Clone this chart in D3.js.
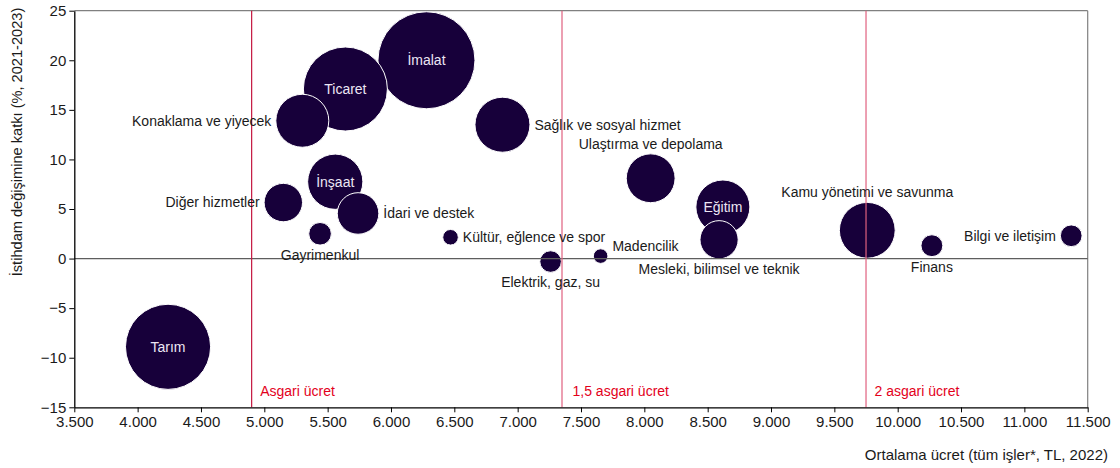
<!DOCTYPE html>
<html>
<head>
<meta charset="utf-8">
<script src="https://cdn.jsdelivr.net/npm/d3@7"></script>
<style>
  body { margin: 0; background: #fff; }
  text { font-family: "Liberation Sans", Arial, sans-serif; }
</style>
</head>
<body>
<script>
// sectors, average wage (TL, 2022), contribution to employment change (%, 2021-2023), employment (thousand)
var sectors = ["İmalat", "Ticaret", "Tarım", "Kamu yönetimi ve savunma", "İnşaat", "Sağlık ve sosyal hizmet",
    "Eğitim", "Konaklama ve yiyecek", "Ulaştırma ve depolama", "İdari ve destek", "Diğer hizmetler",
    "Mesleki, bilimsel ve teknik", "Gayrimenkul", "Finans", "Bilgi ve iletişim", "Elektrik, gaz, su",
    "Kültür, eğlence ve spor", "Madencilik"];
var wages = [6280, 5640, 4240, 9760, 5560, 6880, 8620, 5300, 8050, 5740, 5150, 8590, 5440, 10270, 11370, 7260, 6470, 7655];
var contrib = [20.0, 17.1, -8.9, 2.85, 7.75, 13.5, 5.2, 13.9, 8.1, 4.55, 5.65, 1.9, 2.5, 1.3, 2.3, -0.3, 2.15, 0.25];
var employment = [6000, 4500, 4620, 1985, 1945, 1930, 1860, 1790, 1520, 1100, 940, 930, 326, 305, 300, 297, 155, 136];

// where each name is written relative to its bubble
var labelPos = ["in", "in", "in", "above", "in", "right", "in", "left", "above", "right", "left",
    "below", "below", "below", "left", "below", "right", "rightup"];

var xTicks = d3.range(3500, 11501, 500);
var yTicks = d3.range(-15, 26, 5);

var wageLines = [4900, 7350, 9750];
var wageLineLabels = ["Asgari ücret", "1,5 asgari ücret", "2 asgari ücret"];

var W = 1120, H = 468;
var margin = {left: 74.3, top: 10.7, right: 1120 - 1087.7, bottom: 468 - 407.3};
var w = W - margin.left - margin.right,
    h = H - margin.top - margin.bottom;

var svg = d3.select("body").append("svg")
    .attr("width", W)
    .attr("height", H);

var g = svg.append("g")
    .attr("transform", "translate(" + margin.left + "," + margin.top + ")");

var x = d3.scaleLinear().domain([3500, 11500]).range([0, w]);
var y = d3.scaleLinear().domain([-15, 25]).range([h, 0]);
var r = d3.scaleSqrt().domain([0, 6000]).range([0, 48.5]);

var fmt = function (d) { return d3.format(",")(d).replace(/,/g, "."); };

// top and right frame
g.append("line").attr("x1", 0).attr("x2", w).attr("y1", 0).attr("y2", 0)
    .attr("stroke", "#808080").attr("stroke-width", 1.2);
g.append("line").attr("x1", w).attr("x2", w).attr("y1", 0).attr("y2", h)
    .attr("stroke", "#808080").attr("stroke-width", 1.2);

var data = sectors.map(function (s, i) {
    return {name: s, wage: wages[i], val: contrib[i], emp: employment[i], pos: labelPos[i]};
});

// bubbles, biggest first so small ones sit on top
g.selectAll("circle.bub")
    .data(data)
    .enter()
    .append("circle")
    .attr("class", "bub")
    .attr("cx", function (d) { return x(d.wage); })
    .attr("cy", function (d) { return y(d.val); })
    .attr("r", function (d) { return r(d.emp); })
    .attr("fill", "#17003a")
    .attr("stroke", "#ffffff")
    .attr("stroke-width", 1);

// zero line
g.append("line").attr("x1", 0).attr("x2", w).attr("y1", y(0)).attr("y2", y(0))
    .attr("stroke", "#5e5e5e").attr("stroke-width", 1.3);

// minimum wage lines
g.selectAll("line.wl")
    .data(wageLines)
    .enter()
    .append("line")
    .attr("class", "wl")
    .attr("x1", function (d) { return x(d); })
    .attr("x2", function (d) { return x(d); })
    .attr("y1", 0).attr("y2", h)
    .attr("stroke", function (d, i) { return i == 0 ? "#c4163f" : "#e0607f"; })
    .attr("stroke-width", 1.2);

g.selectAll("text.wl")
    .data(wageLines)
    .enter()
    .append("text")
    .attr("class", "wl")
    .attr("x", function (d, i) { return x(d) + (i == 1 ? 10.5 : 8.5); })
    .attr("y", 380)
    .attr("dy", "0.35em")
    .attr("fill", "#e3001b")
    .style("font-size", "14px")
    .text(function (d, i) { return wageLineLabels[i]; });

// bubble labels
g.selectAll("text.lab")
    .data(data)
    .enter()
    .append("text")
    .attr("class", "lab")
    .attr("x", function (d) {
        var cx = x(d.wage), rr = r(d.emp);
        if (d.pos == "left") return cx - rr - 4.5;
        if (d.pos == "right" || d.pos == "rightup") return cx + rr + 4.5;
        return cx;
    })
    .attr("y", function (d) {
        var cy = y(d.val), rr = r(d.emp);
        if (d.pos == "above") return cy - rr - 10;
        if (d.pos == "below") return cy + rr + 10;
        if (d.pos == "rightup") return cy - 10;
        return cy;
    })
    .attr("dy", "0.35em")
    .attr("text-anchor", function (d) {
        if (d.pos == "left") return "end";
        if (d.pos == "right" || d.pos == "rightup") return "start";
        return "middle";
    })
    .attr("fill", function (d) { return d.pos == "in" ? "#ece6f4" : "#1a1a1a"; })
    .style("font-size", "14px")
    .text(function (d) { return d.name; });

// axes
var xAxis = g.append("g")
    .attr("transform", "translate(0," + h + ")")
    .call(d3.axisBottom(x).tickValues(xTicks).tickFormat(fmt).tickSize(5).tickSizeOuter(0));
var yAxis = g.append("g")
    .call(d3.axisLeft(y).tickValues(yTicks).tickSize(5).tickSizeOuter(0));

[xAxis, yAxis].forEach(function (a) {
    a.select(".domain").attr("stroke", "#000").attr("stroke-width", 1.3);
    a.selectAll(".tick line").attr("stroke", "#000");
    a.selectAll(".tick text")
        .attr("fill", "#1a1a1a")
        .style("font-size", "15px")
        .style("font-family", "'Liberation Sans', Arial, sans-serif");
});
xAxis.selectAll(".tick text").attr("y", 9);
yAxis.selectAll(".tick text").attr("x", -8);

// axis titles
svg.append("text")
    .attr("x", 1108)
    .attr("y", 455)
    .attr("dy", "0.35em")
    .attr("text-anchor", "end")
    .attr("fill", "#1a1a1a")
    .style("font-size", "15px")
    .text("Ortalama ücret (tüm işler*, TL, 2022)");

svg.append("text")
    .attr("transform", "translate(17,142) rotate(-90)")
    .attr("text-anchor", "middle")
    .attr("dy", "0.35em")
    .attr("fill", "#1a1a1a")
    .style("font-size", "14.6px")
    .text("İstihdam değişimine katkı (%, 2021-2023)");
</script>
</body>
</html>
